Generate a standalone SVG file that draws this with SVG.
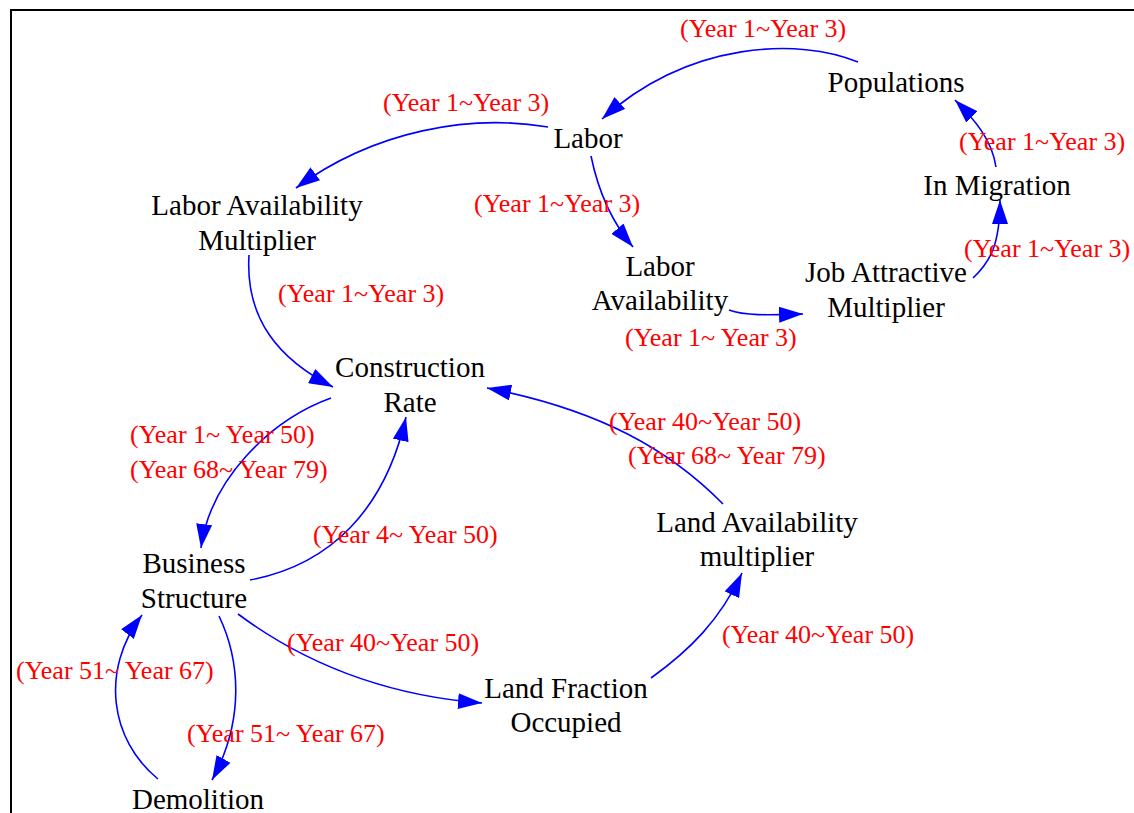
<svg xmlns="http://www.w3.org/2000/svg" width="1134" height="813" viewBox="0 0 1134 813">
<defs>
<marker id="arr" markerUnits="userSpaceOnUse" markerWidth="24" markerHeight="16" viewBox="0 0 24 16" refX="24" refY="8" orient="auto">
<path d="M0,0 L24,8 L0,16 z" fill="#0000ff"/>
</marker>
</defs>
<style>
.node{font-family:"Liberation Serif","Times New Roman",serif;font-size:29px;fill:#000;text-anchor:middle}
.lbl{font-family:"Liberation Serif","Times New Roman",serif;font-size:26px;fill:#ff0000}
.edge{fill:none;stroke:#0000ff;stroke-width:1.6;marker-end:url(#arr)}
</style>
<rect width="1134" height="813" fill="#fff"/>
<path d="M11,813 L11,10 L1134,10" fill="none" stroke="#000" stroke-width="2"/>
<g id="connectors">
<path class="edge" d="M858,62 C800,38 690,40 602,119"/>
<path class="edge" d="M548,127 C470,114 375,130 296,188"/>
<path class="edge" d="M591,156 C598,190 610,220 633,247"/>
<path class="edge" d="M729,310 C745,316 770,315 803,314"/>
<path class="edge" d="M973,278 C990,262 1000,245 1000,200"/>
<path class="edge" d="M996,167 C992,140 975,120 955,100"/>
<path class="edge" d="M249,255 C245,320 280,360 333,387"/>
<path class="edge" d="M331,398 C270,420 210,480 201,548"/>
<path class="edge" d="M250,580 C330,565 385,510 406,417"/>
<path class="edge" d="M723,504 C670,450 600,410 487,388"/>
<path class="edge" d="M238,614 C300,660 380,695 482,703"/>
<path class="edge" d="M651,678 C690,650 720,620 742,573"/>
<path class="edge" d="M219,616 C240,660 245,720 212,780"/>
<path class="edge" d="M158,779 C110,740 100,670 142,615"/>
</g>
<g id="labels">
<text class="lbl" x="680" y="37">(Year 1~Year 3)</text>
<text class="lbl" x="383" y="111">(Year 1~Year 3)</text>
<text class="lbl" x="474" y="212">(Year 1~Year 3)</text>
<text class="lbl" x="959" y="150">(Year 1~Year 3)</text>
<text class="lbl" x="964" y="257">(Year 1~Year 3)</text>
<text class="lbl" x="625" y="346">(Year 1~ Year 3)</text>
<text class="lbl" x="278" y="302">(Year 1~Year 3)</text>
<text class="lbl" x="130" y="443">(Year 1~ Year 50)</text>
<text class="lbl" x="130" y="478">(Year 68~ Year 79)</text>
<text class="lbl" x="313" y="543">(Year 4~ Year 50)</text>
<text class="lbl" x="609" y="430">(Year 40~Year 50)</text>
<text class="lbl" x="628" y="464">(Year 68~ Year 79)</text>
<text class="lbl" x="287" y="651">(Year 40~Year 50)</text>
<text class="lbl" x="16" y="679">(Year 51~ Year 67)</text>
<text class="lbl" x="187" y="742">(Year 51~ Year 67)</text>
<text class="lbl" x="722" y="643">(Year 40~Year 50)</text>
</g>
<g id="populations"><text class="node" x="896" y="92">Populations</text></g>
<g id="labor"><text class="node" x="588" y="148">Labor</text></g>
<g id="labor-availability-multiplier"><text class="node" x="257" y="215">Labor Availability</text><text class="node" x="257" y="250">Multiplier</text></g>
<g id="in-migration"><text class="node" x="997" y="195">In Migration</text></g>
<g id="labor-availability"><text class="node" x="660" y="276">Labor</text><text class="node" x="660" y="310">Availability</text></g>
<g id="job-attractive-multiplier"><text class="node" x="886" y="282">Job Attractive</text><text class="node" x="886" y="317">Multiplier</text></g>
<g id="construction-rate"><text class="node" x="410" y="377">Construction</text><text class="node" x="410" y="412">Rate</text></g>
<g id="business-structure"><text class="node" x="194" y="573">Business</text><text class="node" x="194" y="608">Structure</text></g>
<g id="land-availability-multiplier"><text class="node" x="757" y="532">Land Availability</text><text class="node" x="757" y="566">multiplier</text></g>
<g id="land-fraction-occupied"><text class="node" x="566" y="698">Land Fraction</text><text class="node" x="566" y="732">Occupied</text></g>
<g id="demolition"><text class="node" x="198" y="809">Demolition</text></g>
</svg>
